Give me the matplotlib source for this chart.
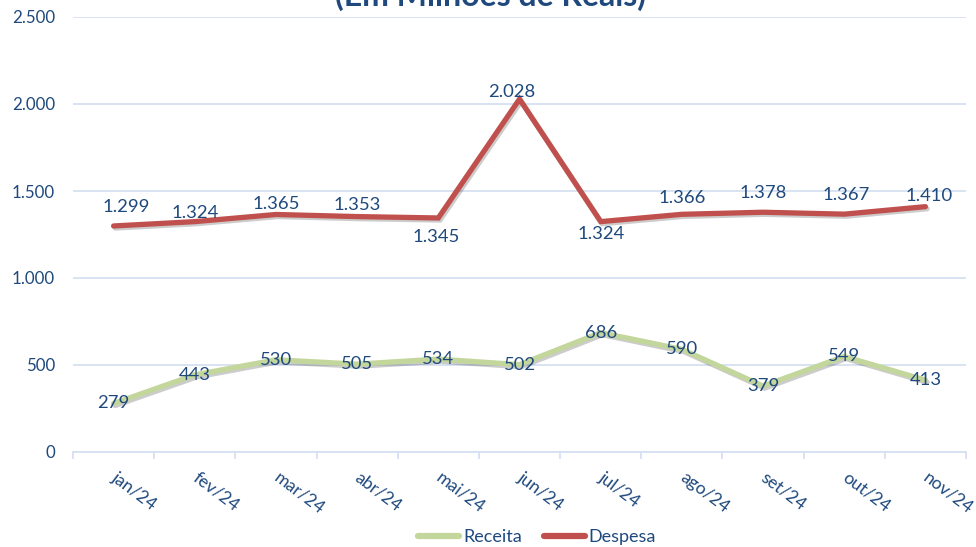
import matplotlib
matplotlib.use("Agg")
import matplotlib.pyplot as plt
import matplotlib.patheffects as pe
import numpy as np

months = ["jan/24", "fev/24", "mar/24", "abr/24", "mai/24", "jun/24",
          "jul/24", "ago/24", "set/24", "out/24", "nov/24"]
receita = [279, 443, 530, 505, 534, 502, 686, 590, 379, 549, 413]
despesa = [1299, 1324, 1365, 1353, 1345, 2028, 1324, 1366, 1378, 1367, 1410]
yticks = [0, 500, 1000, 1500, 2000, 2500]

# label offsets (pixels) for Despesa data labels
desp_dx = [13, 0, 0, 0, -2, -8, 0, 0, 0, 2, 4]
desp_dy = [19, 9, 10, 12, -19, 7, -12, 16, 19, 19, 11]

plt.rcParams['font.family'] = ['Lato', 'DejaVu Sans']
TXT = "#1F497D"
GRID = "#D5E0F0"
GREEN = "#C3D69B"
RED = "#C0504D"

def fmt(v):
    return f"{v:,}".replace(",", ".")

fig = plt.figure(figsize=(9.76, 5.47), dpi=100)
ax = fig.add_axes([73/976, 1-452/547, 893/976, 435/547])

x = np.arange(len(months)) + 0.5
shadow = [pe.SimpleLineShadow(offset=(1.2, -1.5), alpha=0.2, shadow_color="k"), pe.Normal()]
ax.plot(x, receita, color=GREEN, lw=3.8, solid_capstyle='round', solid_joinstyle='miter',
        path_effects=shadow, label="Receita", zorder=3)
ax.plot(x, despesa, color=RED, lw=3.8, solid_capstyle='round', solid_joinstyle='miter',
        path_effects=shadow, label="Despesa", zorder=3)

for xi, v in zip(x, receita):
    ax.annotate(fmt(v), (xi, v), ha='center', va='center', color=TXT, fontsize=13.3, zorder=5)
for xi, v, dx, dy in zip(x, despesa, desp_dx, desp_dy):
    ax.annotate(fmt(v), (xi, v), xytext=(dx, dy), textcoords='offset pixels',
                ha='center', va='center', color=TXT, fontsize=13.3, zorder=5)

ax.set_xlim(0, len(months))
ax.set_ylim(0, 2500)
ax.set_yticks(yticks)
ax.set_yticklabels([fmt(t) for t in yticks], color=TXT, fontsize=12.2)
ax.yaxis.grid(True, color=GRID, lw=1.3)
ax.set_axisbelow(True)
ax.tick_params(axis='y', length=0, pad=13)

ax.set_xticks(np.arange(len(months) + 1))
ax.set_xticklabels([])
ax.set_xticks(x, minor=True)
ax.set_xticklabels(months, minor=True, rotation=-37, ha='left', va='center',
                   rotation_mode='anchor', color=TXT, fontsize=12.7)
ax.tick_params(axis='x', which='major', length=5, color=GRID, width=1.3, direction='out')
ax.tick_params(axis='x', which='minor', length=0, pad=17)

for s in ['top', 'right', 'left']:
    ax.spines[s].set_visible(False)
ax.spines['bottom'].set_color(GRID)
ax.spines['bottom'].set_linewidth(1.3)

fig.text(490/976, 1 - 6/547, "(Em Milhões de Reais)", ha='center', va='baseline',
         fontsize=23, fontweight='bold', color=TXT)

leg = fig.legend(loc='center', bbox_to_anchor=(537/976, 1 - 537/547), ncol=2, frameon=False,
                 fontsize=13, handlelength=2.3, columnspacing=1.2, handletextpad=0.2)
for t in leg.get_texts():
    t.set_color(TXT)
for h in leg.get_lines():
    h.set_linewidth(4.5)
    h.set_path_effects([])

fig.savefig("out.png", dpi=100)
